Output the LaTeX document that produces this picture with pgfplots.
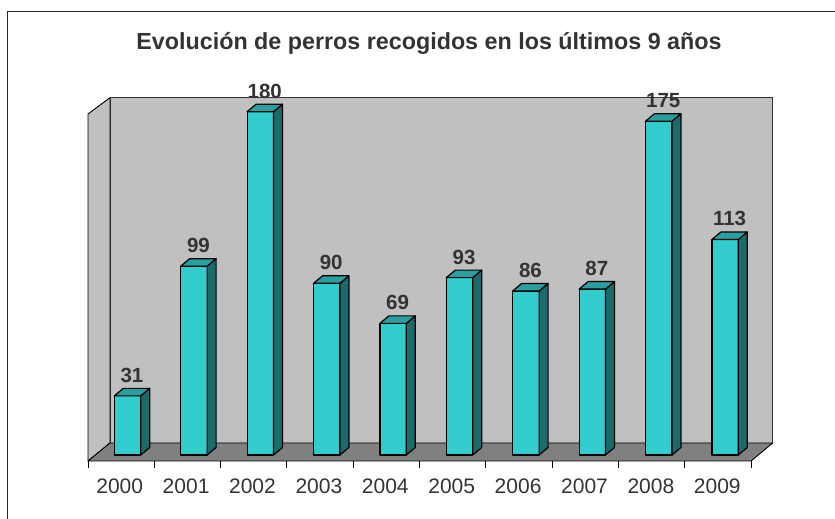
\documentclass[border=0pt]{standalone}
\usepackage{pgfplots}
\pgfplotsset{compat=1.18}
\usepackage{fontspec}
\setmainfont{Liberation Sans}
\definecolor{barfront}{HTML}{33CCCC}
\definecolor{barside}{HTML}{1C6A6A}
\definecolor{bartop}{HTML}{2A9F9F}
\definecolor{wall}{HTML}{C0C0C0}
\definecolor{floorc}{HTML}{808080}
\definecolor{txt}{HTML}{333333}
\begin{document}
\begin{tikzpicture}[x=1pt,y=1pt]
\useasboundingbox (0,0) rectangle (835,519);
\draw[black!85, line width=1pt] (7.7,0) -- (7.7,507) -- (835,507);
\node[font=\bfseries\fontsize{23.3}{28}\selectfont, text=txt, anchor=base] at (429,469.7) {Evolución de perros recogidos en los últimos 9 años};
% walls and floor
\fill[wall] (110,76) rectangle (772.7,421.3);
\draw[black!80, line width=0.9pt] (110,76) -- (110,421.3) -- (772.7,421.3) -- (772.7,76);
\filldraw[fill=wall, draw=black, line width=0.9pt, line join=round] (88,58) -- (88,405) -- (110,421.3) -- (110,76) -- cycle;
\filldraw[fill=floorc, draw=black, line width=0.9pt, line join=round] (88,58) -- (751,58) -- (772.7,76) -- (110,76) -- cycle;
\foreach \k in {0,...,10} \draw[black, line width=0.9pt] ({88+66.3*\k},58) -- ({88+66.3*\k},51);
\begin{axis}[at={(94.3pt,64pt)}, anchor=south west, scale only axis,
  width=664pt, height=343.3pt, xmin=-0.5, xmax=9.5, ymin=0, ymax=180,
  clip=false, axis line style={draw=none}, ytick=\empty,
  /pgf/number format/assume math mode=true,
  xtick={0,...,9}, xticklabels={2000,2001,2002,2003,2004,2005,2006,2007,2008,2009},
  major tick length=0pt,
  xticklabel style={font=\fontsize{21}{25}\selectfont, text=txt, anchor=base, xshift=-7.8pt, yshift=-38pt}]
\addplot[ybar, bar width=26.4pt, fill=barfront, draw=black, line width=1.2pt, line join=round,
  nodes near coords,
  nodes near coords style={font=\bfseries\fontsize{20.5}{24}\selectfont, text=txt, anchor=base, xshift=4.5pt, yshift=13.5pt}]
  coordinates {(0,31) (1,99) (2,180) (3,90) (4,69) (5,93) (6,86) (7,87) (8,175) (9,113)};
\addplot[scatter, only marks, mark=*, mark size=0.001pt, mark options={draw=none, fill=none},
  visualization depends on={y \as \rawy},
  scatter/@pre marker code/.code={%
    \pgfmathsetmacro\hh{\rawy*1.9072}%
    \filldraw[fill=barside, draw=black, line width=1.2pt, line join=round]
      (13.2pt,0pt) -- (22.2pt,7.5pt) -- (22.2pt,{7.5pt-\hh pt}) -- (13.2pt,{-\hh pt}) -- cycle;
    \filldraw[fill=bartop, draw=black, line width=1.2pt, line join=round]
      (-13.2pt,0pt) -- (13.2pt,0pt) -- (22.2pt,7.5pt) -- (-4.2pt,7.5pt) -- cycle;
  },
  scatter/@post marker code/.code={}]
  coordinates {(0,31) (1,99) (2,180) (3,90) (4,69) (5,93) (6,86) (7,87) (8,175) (9,113)};
\end{axis}
\end{tikzpicture}
\end{document}
